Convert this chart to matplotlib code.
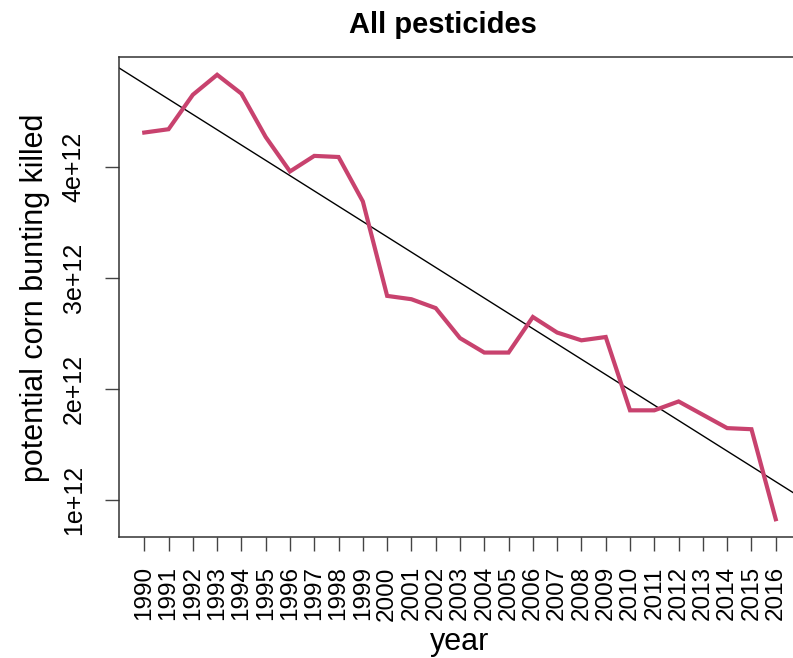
import numpy as np
import matplotlib
matplotlib.use("Agg")
import matplotlib.pyplot as plt

plt.rcParams['font.family'] = ['Liberation Sans', 'DejaVu Sans']

years = list(range(1990, 2017))
killed = [4.31, 4.34, 4.65, 4.83, 4.66, 4.27, 3.96, 4.10, 4.09, 3.69,
          2.84, 2.81, 2.73, 2.46, 2.33, 2.33, 2.65, 2.51, 2.44, 2.47,
          1.81, 1.81, 1.89, 1.77, 1.65, 1.64, 0.83]
killed = [v * 1e12 for v in killed]
ytick_vals = [1e12, 2e12, 3e12, 4e12]
ytick_labels = ["1e+12", "2e+12", "3e+12", "4e+12"]

W, H = 793, 658
fig = plt.figure(figsize=(W / 100, H / 100), dpi=100)
L, R, T, B = 119, 801, 57, 537
ax = fig.add_axes([L / W, (H - B) / H, (R - L) / W, (B - T) / H])

x = np.array(years, dtype=float)
y = np.array(killed)
ax.plot(x, y, color='#C8426E', lw=3.0, solid_joinstyle='miter', zorder=3)
slope, icpt = np.polyfit(x, y, 1)
ax.axline((x[0], icpt + slope * x[0]), slope=slope, color='black', lw=1.0, zorder=2)

xr = x.max() - x.min()
ax.set_xlim(x.min() - 0.04 * xr, x.max() + 0.04 * xr)
yr = y.max() - y.min()
ax.set_ylim(y.min() - 0.04 * yr, y.max() + 0.04 * yr)

ax.set_xticks(years)
ax.set_xticklabels([str(v) for v in years], rotation=90, fontsize=17.5)
ax.set_yticks(ytick_vals)
ax.set_yticklabels(ytick_labels, rotation=90, va='center', fontsize=18)
ax.tick_params(axis='both', direction='out', length=10, width=1.0, color='#444444')
ax.tick_params(axis='x', pad=11)
ax.tick_params(axis='y', pad=14)
for s in ax.spines.values():
    s.set_linewidth(1.1)
    s.set_color('#333333')

fig.text(443 / W, 1 - 25 / H, "All pesticides", ha='center', va='center',
         fontsize=21, fontweight='bold')
fig.text(460 / W, 1 - 642 / H, "year", ha='center', va='center', fontsize=22)
fig.text(35 / W, 1 - 298 / H, "potential corn bunting killed", ha='center', va='center',
         rotation=90, fontsize=22)

fig.savefig("out.png", dpi=100)
